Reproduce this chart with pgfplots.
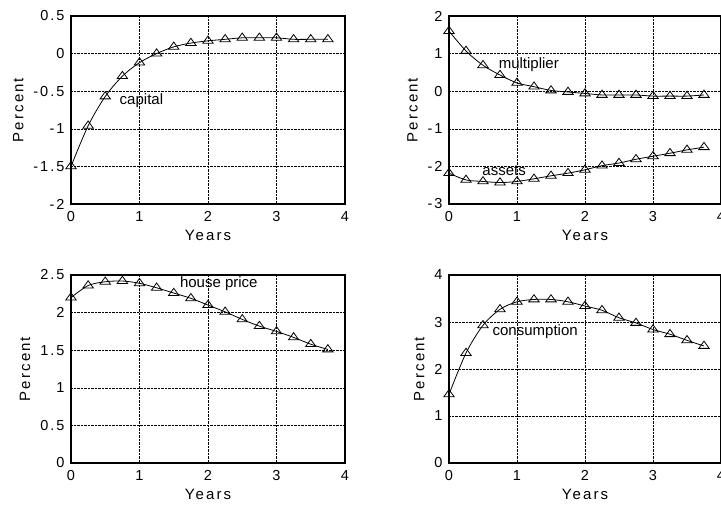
\documentclass[border=0pt]{standalone}
\usepackage{fontspec}
\setmainfont{Liberation Sans}
\newfontfamily\spaced[LetterSpace=14]{Liberation Sans}
\usepackage{pgfplots}
\pgfplotsset{compat=1.18}
\pgfplotsset{
  irf/.style={
    scale only axis, width=274pt, height=188pt,
    xmin=0, xmax=4, xtick={0,1,2,3,4},
    grid=major,
    major grid style={densely dotted, black, line width=0.6pt},
    axis line style={line width=1.2pt},
    major tick length=0pt,
    /pgf/number format/assume math mode=true,
    ticklabel style={font=\spaced\fontsize{14.5}{16}\selectfont},
    yticklabel style={xshift=-3pt},
    xticklabel style={yshift=-4pt},
    label style={font=\spaced\fontsize{15}{16}\selectfont},
    xlabel={Years}, ylabel={Percent},
    xlabel style={yshift=-2pt},
    ylabel style={yshift=3pt},
  },
  irfline/.style={black, solid, line width=0.8pt, smooth, mark=triangle, mark size=4.8pt, mark options={solid, line width=0.8pt, xscale=1.25}},
}
\begin{document}
\begin{tikzpicture}[x=1pt,y=1pt]
% top left
\begin{axis}[irf, at={(71pt,-204pt)}, anchor=south west, ymin=-2, ymax=0.5, ytick={-2,-1.5,-1,-0.5,0,0.5}]
\addplot[irfline] coordinates {(0,-1.50) (0.25,-0.96) (0.5,-0.57) (0.75,-0.30) (1,-0.12) (1.25,0.00) (1.5,0.09) (1.75,0.14) (2,0.17) (2.25,0.19) (2.5,0.21) (2.75,0.21) (3,0.21) (3.25,0.19) (3.5,0.19) (3.75,0.19)};
\node[anchor=west, font=\fontsize{15}{16}\selectfont] at (axis cs:0.66,-0.62) {capital};
\end{axis}
% top right
\begin{axis}[irf, width=272pt, at={(449pt,-204pt)}, anchor=south west, ymin=-3, ymax=2, ytick={-3,-2,-1,0,1,2}]
\addplot[irfline] coordinates {(0,1.60) (0.25,1.07) (0.5,0.69) (0.75,0.43) (1,0.22) (1.25,0.12) (1.5,0.02) (1.75,-0.02) (2,-0.06) (2.25,-0.10) (2.5,-0.10) (2.75,-0.10) (3,-0.13) (3.25,-0.13) (3.5,-0.13) (3.75,-0.10)};
\addplot[irfline] coordinates {(0,-2.18) (0.25,-2.36) (0.5,-2.40) (0.75,-2.43) (1,-2.40) (1.25,-2.33) (1.5,-2.25) (1.75,-2.18) (2,-2.09) (2.25,-1.98) (2.5,-1.91) (2.75,-1.81) (3,-1.73) (3.25,-1.65) (3.5,-1.56) (3.75,-1.49)};
\node[anchor=west, font=\fontsize{15}{16}\selectfont] at (axis cs:0.68,0.71) {multiplier};
\node[anchor=west, font=\fontsize{15}{16}\selectfont] at (axis cs:0.44,-2.11) {assets};
\end{axis}
% bottom left
\begin{axis}[irf, at={(71pt,-463pt)}, anchor=south west, ymin=0, ymax=2.5, ytick={0,0.5,1,1.5,2,2.5}]
\addplot[irfline] coordinates {(0,2.20) (0.25,2.36) (0.5,2.41) (0.75,2.42) (1,2.39) (1.25,2.33) (1.5,2.26) (1.75,2.19) (2,2.10) (2.25,2.01) (2.5,1.91) (2.75,1.82) (3,1.75) (3.25,1.67) (3.5,1.58) (3.75,1.51)};
\node[anchor=west, font=\fontsize{15}{16}\selectfont] at (axis cs:1.54,2.38) {house price};
\end{axis}
% bottom right
\begin{axis}[irf, width=272pt, at={(449pt,-463pt)}, anchor=south west, ymin=0, ymax=4, ytick={0,1,2,3,4}]
\addplot[irfline] coordinates {(0,1.46) (0.25,2.34) (0.5,2.93) (0.75,3.27) (1,3.43) (1.25,3.48) (1.5,3.48) (1.75,3.43) (2,3.34) (2.25,3.25) (2.5,3.09) (2.75,2.98) (3,2.84) (3.25,2.74) (3.5,2.61) (3.75,2.49)};
\node[anchor=west, font=\fontsize{15}{16}\selectfont] at (axis cs:0.59,2.79) {consumption};
\end{axis}
\pgfresetboundingbox
\useasboundingbox (0pt,-504pt) rectangle (721pt,0pt);
\end{tikzpicture}
\end{document}
